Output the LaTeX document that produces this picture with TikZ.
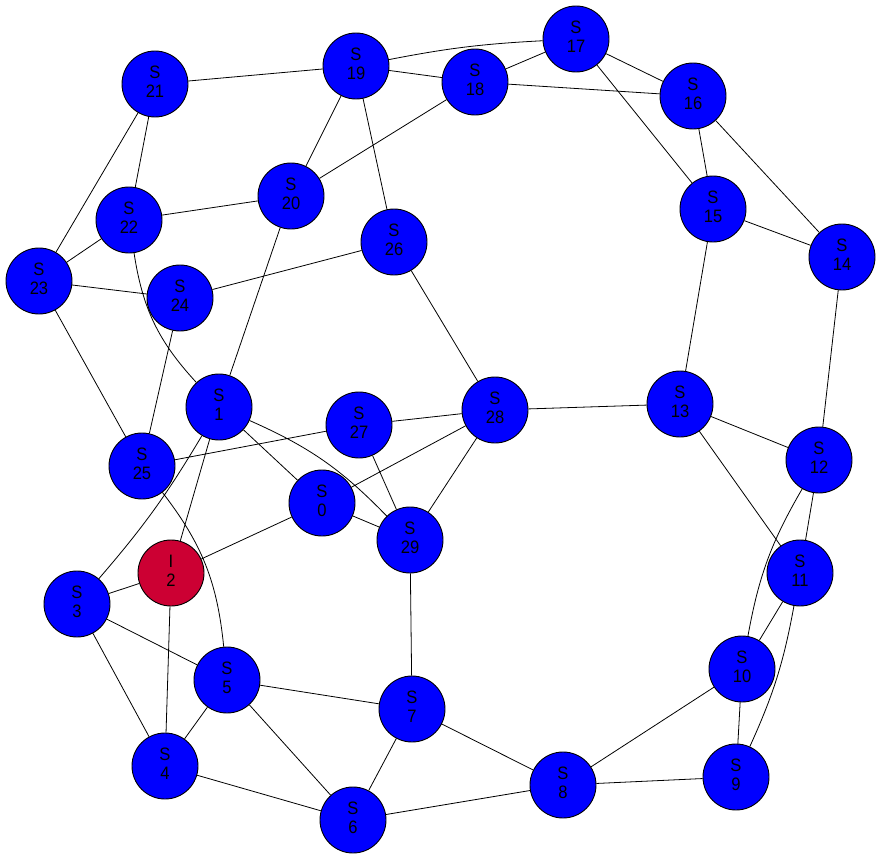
\documentclass[tikz,border=0pt]{standalone}
\usepackage{fontspec}
\setmainfont{Liberation Sans}[FakeStretch=0.92]
\definecolor{nodeblue}{RGB}{0,0,255}
\definecolor{nodered}{RGB}{204,0,51}
\begin{document}
\begin{tikzpicture}[x=1pt,y=-1pt,
  st/.style={circle,draw=black,line width=0.9pt,fill=nodeblue,minimum size=66pt,inner sep=0pt,
    align=center,font=\fontsize{18}{19}\selectfont,text=black,text depth=5pt},
  it/.style={st,fill=nodered},
  edge/.style={draw=black,line width=0.8pt}]
\useasboundingbox (0,0) rectangle (880,859);
\node[st] (n0) at (322,503) {S\\0};
\node[st] (n1) at (219,407) {S\\1};
\node[it] (n2) at (171,573) {I\\2};
\node[st] (n3) at (77,604) {S\\3};
\node[st] (n4) at (165,766) {S\\4};
\node[st] (n5) at (227,680) {S\\5};
\node[st] (n6) at (353,820) {S\\6};
\node[st] (n7) at (412,709) {S\\7};
\node[st] (n8) at (563,785) {S\\8};
\node[st] (n9) at (736,777) {S\\9};
\node[st] (n10) at (742,669) {S\\10};
\node[st] (n11) at (800,573) {S\\11};
\node[st] (n12) at (819,460) {S\\12};
\node[st] (n13) at (680,404) {S\\13};
\node[st] (n14) at (842,257) {S\\14};
\node[st] (n15) at (713,209) {S\\15};
\node[st] (n16) at (693,96) {S\\16};
\node[st] (n17) at (576,39) {S\\17};
\node[st] (n18) at (475,82) {S\\18};
\node[st] (n19) at (356,66) {S\\19};
\node[st] (n20) at (291,196) {S\\20};
\node[st] (n21) at (155,84) {S\\21};
\node[st] (n22) at (129,220) {S\\22};
\node[st] (n23) at (39,281) {S\\23};
\node[st] (n24) at (180,298) {S\\24};
\node[st] (n25) at (142,466) {S\\25};
\node[st] (n26) at (394,242) {S\\26};
\node[st] (n27) at (359,425) {S\\27};
\node[st] (n28) at (495,410) {S\\28};
\node[st] (n29) at (410,540) {S\\29};
\path[edge]
  (n19) -- (n21)
  (n19) to[bend left=4] (n17)
  (n19) -- (n18)
  (n18) -- (n17)
  (n18) -- (n16)
  (n17) -- (n16)
  (n17) -- (n15)
  (n16) -- (n15)
  (n16) -- (n14)
  (n15) -- (n14)
  (n15) -- (n13)
  (n14) -- (n12)
  (n19) -- (n20)
  (n19) -- (n26)
  (n18) -- (n20)
  (n21) -- (n22)
  (n21) -- (n23)
  (n22) -- (n20)
  (n22) -- (n23)
  (n22) to[bend right=17] (n1)
  (n23) -- (n24)
  (n23) -- (n25)
  (n24) -- (n26)
  (n24) -- (n25)
  (n20) -- (n1)
  (n26) -- (n28)
  (n1) -- (n0)
  (n1) to[bend left=11] (n29)
  (n1) to[bend left=5] (n3)
  (n1) -- (n2)
  (n27) -- (n28)
  (n27) -- (n25)
  (n27) -- (n29)
  (n28) -- (n0)
  (n28) -- (n29)
  (n28) -- (n13)
  (n13) -- (n12)
  (n13) -- (n11)
  (n12) -- (n11)
  (n12) to[bend right=10] (n10)
  (n11) -- (n10)
  (n11) to[bend left=7] (n9)
  (n10) -- (n9)
  (n10) -- (n8)
  (n9) -- (n8)
  (n0) -- (n29)
  (n0) -- (n2)
  (n2) -- (n3)
  (n2) -- (n4)
  (n25) to[bend left=16] (n5)
  (n3) -- (n5)
  (n3) -- (n4)
  (n5) -- (n4)
  (n5) -- (n7)
  (n5) -- (n6)
  (n29) -- (n7)
  (n7) -- (n6)
  (n7) -- (n8)
  (n4) -- (n6)
  (n6) -- (n8);
\end{tikzpicture}
\end{document}
